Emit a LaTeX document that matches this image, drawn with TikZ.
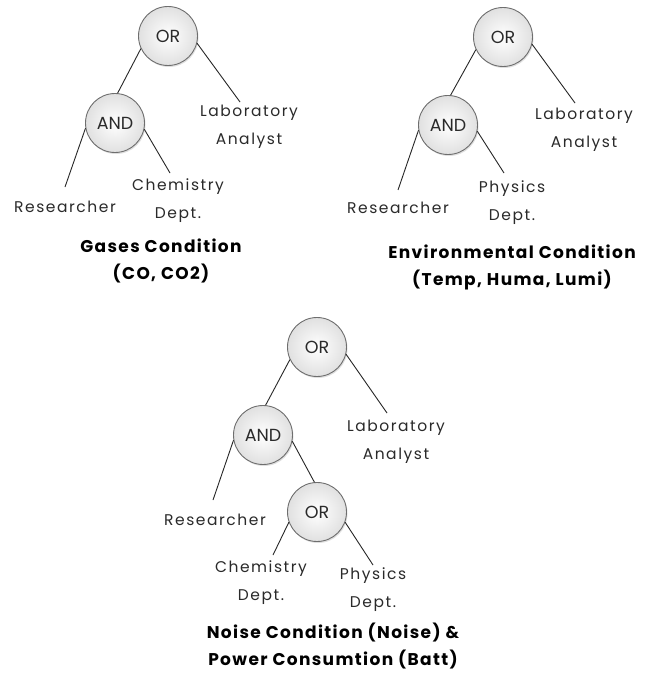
\documentclass[tikz,border=0pt]{standalone}
\usepackage{fontspec}
\setmainfont{Poppins}
\newfontfamily\gfont[LetterSpace=10]{Poppins}
\newfontfamily\tfont[LetterSpace=8]{Poppins}
\usetikzlibrary{shadows}
\definecolor{txt}{HTML}{2A2A2A}
\definecolor{ring}{HTML}{6E6E6E}
\tikzset{
  gate/.style={circle, minimum size=59bp, inner sep=0pt, draw=ring, line width=0.9pt,
    inner color=white, outer color=black!12, text=txt, font=\fontsize{17.5bp}{19bp}\selectfont,
    drop shadow={shadow xshift=1bp, shadow yshift=-1.5bp, opacity=0.25}},
  leaf/.style={align=center, inner sep=0pt, text=txt, font=\gfont\fontsize{15.5bp}{28bp}\selectfont},
  ttl/.style={align=center, inner sep=0pt, text=black, font=\tfont\fontsize{17bp}{27bp}\selectfont\bfseries},
  edge/.style={draw=black!85, line width=0.9pt}
}
\begin{document}
\begin{tikzpicture}[x=1bp,y=-1bp]
\fill[white] (0,0) rectangle (647,673);
\useasboundingbox (0,0) rectangle (647,673);
% ---------- tree 1 ----------
\node[gate] (or1) at (168,36) {OR};
\node[gate] (and1) at (115,123) {AND};
\coordinate (lab1e) at (240,102);
\coordinate (res1e) at (65,187);
\coordinate (chem1e) at (170,173);
\draw[edge] (or1.205) -- (and1.85);
\draw[edge] (or1.-14) -- (lab1e);
\draw[edge] (and1.190) -- (res1e);
\draw[edge] (and1.-12) -- (chem1e);
\node[leaf] (lab1) at (249,127) {Laboratory\\Analyst};
\node[leaf] (res1) at (65,207) {Researcher};
\node[leaf] (chem1) at (178,201) {Chemistry\\Dept.};
\node[ttl] (t1) at (161,261) {Gases Condition\\(CO, CO2)};
% ---------- tree 2 ----------
\node[gate] (or2) at (503,37) {OR};
\node[gate] (and2) at (448,125) {AND};
\coordinate (lab2e) at (575,103);
\coordinate (res2e) at (398,190);
\coordinate (phy2e) at (504,173);
\draw[edge] (or2.205) -- (and2.85);
\draw[edge] (or2.-14) -- (lab2e);
\draw[edge] (and2.190) -- (res2e);
\draw[edge] (and2.-12) -- (phy2e);
\node[leaf] (lab2) at (584,130) {Laboratory\\Analyst};
\node[leaf] (res2) at (398,208) {Researcher};
\node[leaf] (phy2) at (512,203) {Physics\\Dept.};
\node[ttl] (t2) at (512,267) {Environmental Condition\\(Temp, Huma, Lumi)};
% ---------- tree 3 ----------
\node[gate] (or3) at (317,347) {OR};
\node[gate] (and3) at (263,435) {AND};
\node[gate] (or4) at (317,512) {OR};
\coordinate (lab3e) at (387,413);
\coordinate (res3e) at (213,500);
\coordinate (chem3e) at (273,555);
\coordinate (phy3e) at (373,565);
\draw[edge] (or3.205) -- (and3.85);
\draw[edge] (or3.-14) -- (lab3e);
\draw[edge] (and3.190) -- (res3e);
\draw[edge] (and3.-12) -- (or4.95);
\draw[edge] (or4.200) -- (chem3e);
\draw[edge] (or4.-20) -- (phy3e);
\node[leaf] (lab3) at (396,442) {Laboratory\\Analyst};
\node[leaf] (res3) at (215,520) {Researcher};
\node[leaf] (chem3) at (261,583) {Chemistry\\Dept.};
\node[leaf] (phy3) at (373,590) {Physics\\Dept.};
\node[ttl] (t3) at (333,646) {Noise Condition (Noise) \&\\Power Consumtion (Batt)};
\end{tikzpicture}
\end{document}
